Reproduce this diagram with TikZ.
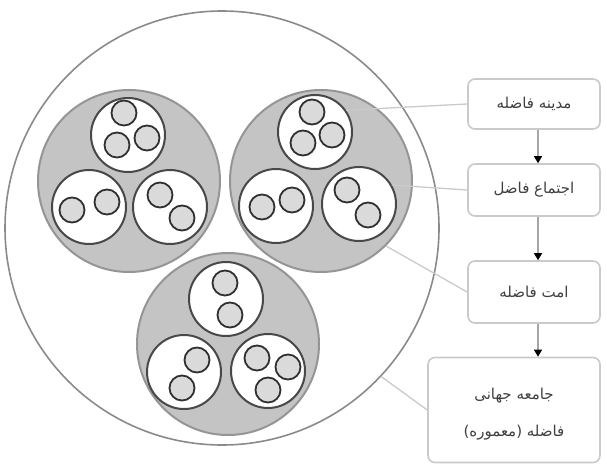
\documentclass[tikz,border=0pt]{standalone}
\usepackage{fontspec}
\newfontfamily\arabicfont[Script=Arabic]{DejaVu Sans}
\TeXXeTstate=1
\usetikzlibrary{arrows.meta}
\definecolor{outerc}{HTML}{8A8A8A}
\definecolor{grpfill}{HTML}{C4C4C4}
\definecolor{grpdraw}{HTML}{959595}
\definecolor{whdraw}{HTML}{484848}
\definecolor{pfill}{HTML}{DADADA}
\definecolor{pdraw}{HTML}{303030}
\definecolor{boxc}{HTML}{CACACA}
\definecolor{txtc}{HTML}{404040}
\begin{document}
\begin{tikzpicture}[x=1pt,y=-1pt,
  outercirc/.style={circle,draw=outerc,line width=1.6pt,inner sep=0pt,minimum size=434pt},
  grp/.style={circle,draw=grpdraw,fill=grpfill,line width=2pt,inner sep=0pt,minimum size=182pt},
  wh/.style={circle,draw=whdraw,fill=white,line width=2pt,inner sep=0pt,minimum size=74pt},
  pp/.style={circle,draw=pdraw,fill=pfill,line width=1.8pt,inner sep=0pt,minimum size=25pt},
  lbox/.style={draw=boxc,line width=1.6pt,rounded corners=7pt,fill=white,minimum width=132pt,inner sep=0pt,align=center,text=txtc,font=\arabicfont\fontsize{15}{37}\selectfont},
  link/.style={draw=boxc,line width=1.3pt},
  flow/.style={draw=gray!70,line width=1.3pt,-{Triangle[length=7pt,width=8pt,fill=black,color=black]}}]
\useasboundingbox (0,0) rectangle (607,468);
% outer circle
\node[outercirc] (world) at (222,228) {};
% groups
\node[grp] (g1) at (129,181) {};
\node[grp] (g2) at (321,181) {};
\node[grp] (g3) at (228,344) {};
% group 1 (top-left)
\node[wh] (w11) at (128,135) {};
\node[wh] (w12) at (89,207) {};
\node[wh] (w13) at (170,207) {};
\node[pp] (p111) at (124,113) {};
\node[pp] (p112) at (147,138) {};
\node[pp] (p113) at (117,145) {};
\node[pp] (p121) at (72,210) {};
\node[pp] (p122) at (107,202) {};
\node[pp] (p131) at (160,195) {};
\node[pp] (p132) at (182,218) {};
% group 2 (top-right)
\node[wh] (w21) at (315,132) {};
\node[wh] (w22) at (276,206) {};
\node[wh] (w23) at (359,204) {};
\node[pp] (p211) at (312,112) {};
\node[pp] (p212) at (332,135) {};
\node[pp] (p213) at (303,143) {};
\node[pp] (p221) at (262,207) {};
\node[pp] (p222) at (292,200) {};
\node[pp] (p231) at (347,190) {};
\node[pp] (p232) at (368,215) {};
% group 3 (bottom)
\node[wh] (w31) at (226,299) {};
\node[wh] (w32) at (184,372) {};
\node[wh] (w33) at (268,371) {};
\node[pp] (p311) at (225,283) {};
\node[pp] (p312) at (230,315) {};
\node[pp] (p321) at (197,360) {};
\node[pp] (p322) at (182,388) {};
\node[pp] (p331) at (257,358) {};
\node[pp] (p332) at (288,367) {};
\node[pp] (p333) at (268,390) {};
% boxes
\node[lbox,minimum height=50pt] (b1) at (534,104) {\beginR مدینه فاضله\endR};
\node[lbox,minimum height=52pt] (b2) at (534,190) {\beginR اجتماع فاضل\endR};
\node[lbox,minimum height=62pt] (b3) at (534,292) {\beginR امت فاضله\endR};
\node[lbox,minimum width=172pt,minimum height=105pt] (b4) at (514,410) {};
\node[font=\arabicfont\fontsize{15}{37}\selectfont,text=txtc,align=center] (b4t) at ([yshift=-4pt]b4.center) {\beginR جامعه جهانی\endR\\\beginR فاضله (معموره)\endR};
% links
\draw[link] (w21.35) -- (b1.west);
\draw[link] (w23.30) -- (b2.west);
\draw[link] (g2.-45) -- (b3.west);
\draw[link] (world.-43) -- (b4.west);
% flow arrows
\draw[flow] ([xshift=4pt]b1.south) -- ([xshift=4pt]b2.north);
\draw[flow] ([xshift=4pt]b2.south) -- ([xshift=4pt]b3.north);
\draw[flow] ([xshift=4pt]b3.south) -- ([xshift=4pt]b3.south |- b4.north);
\end{tikzpicture}
\end{document}
